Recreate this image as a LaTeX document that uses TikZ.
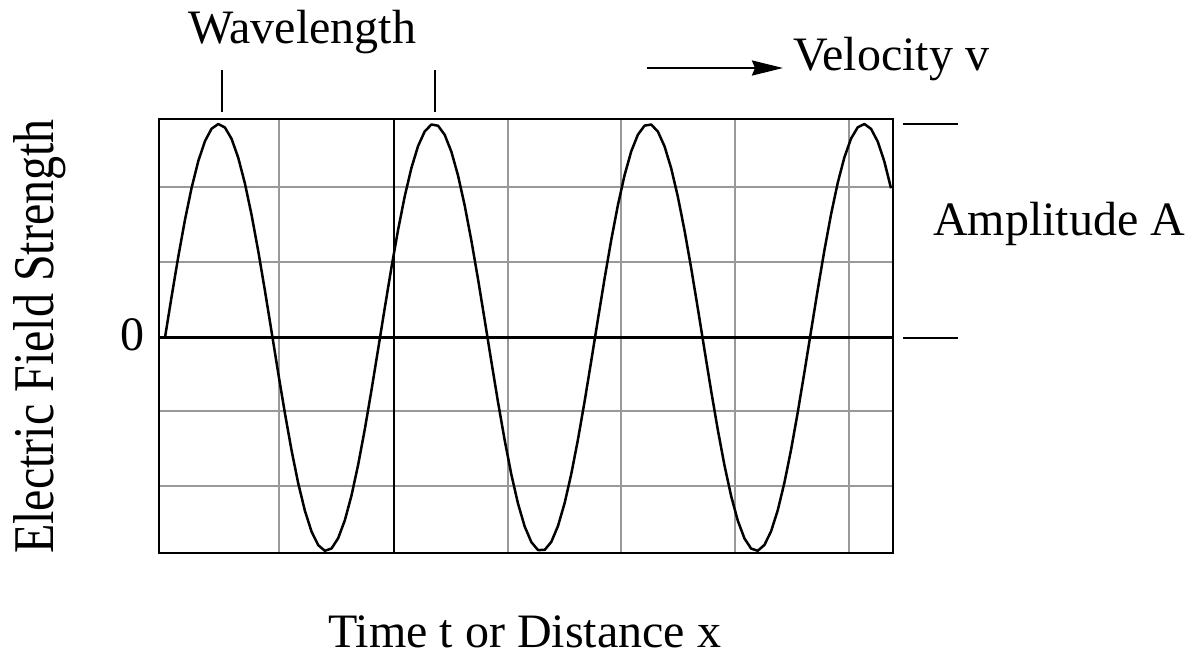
\documentclass[tikz,border=0pt]{standalone}
\usepackage{fontspec}
\setmainfont{Liberation Serif}
\usetikzlibrary{arrows.meta}
\begin{document}
\begin{tikzpicture}[x=1pt,y=-1pt,
  lbl/.style={inner sep=0pt,font=\fontsize{48}{56}\selectfont},
  gridln/.style={line width=1.1pt,draw=black!40},
  heavy/.style={line width=2.6pt,draw=black},
  wave/.style={line width=2.5pt,line join=round},
  tick/.style={line width=2.5pt}]
\useasboundingbox (0,0) rectangle (1193,657);
% grid
\foreach \gx in {279,508,621,735,849}{\draw[gridln] (\gx,119) -- (\gx,553);}
\foreach \gy in {187,262,411,486}{\draw[gridln] (159,\gy) -- (893,\gy);}
% box and axes
\coordinate (bl) at (159,553);
\coordinate (tr) at (893,119);
\draw[heavy] (bl) rectangle (tr);
\coordinate (z0) at (159,337.5);
\coordinate (z1) at (893,337.5);
\draw[heavy] (z0) -- (z1);
\coordinate (m0) at (394,119);
\coordinate (m1) at (394,553);
\draw[heavy] (m0) -- (m1);
% wave
\draw[wave] plot[domain=165:891,samples=110] (\x,{337.5-213.5*sin(1.674419*(\x-165))});
% wavelength ticks
\coordinate (w1a) at (222,70); \coordinate (w1b) at (222,112);
\coordinate (w2a) at (435,70); \coordinate (w2b) at (435,112);
\draw[tick] (w1a) -- (w1b);
\draw[tick] (w2a) -- (w2b);
% amplitude ticks
\coordinate (a1a) at (903,124); \coordinate (a1b) at (958,124);
\coordinate (a2a) at (903,338); \coordinate (a2b) at (958,338);
\draw[tick] (a1a) -- (a1b);
\draw[tick] (a2a) -- (a2b);
% velocity arrow
\coordinate (v0) at (647,68);
\coordinate (v1) at (783,68);
\draw[line width=2.5pt,-{Stealth[length=31pt 0,width=15pt 0,inset=3pt]}] (v0) -- (v1);
% labels
\node[lbl,anchor=base west] (wl) at (188,43) {Wavelength};
\node[lbl,anchor=base west] (vel) at (793,70) {Velocity v};
\node[lbl,anchor=base west] (amp) at (933,235) {Amplitude A};
\node[lbl,anchor=base east] (zero) at (145,350) {0};
\node[lbl,anchor=base west] (xl) at (328,647) {Time t or Distance x};
\node[lbl,anchor=base,rotate=90] (yl) at (53,336.5) {\scalebox{1}[1.2]{Electric Field Strength}};
\end{tikzpicture}
\end{document}
